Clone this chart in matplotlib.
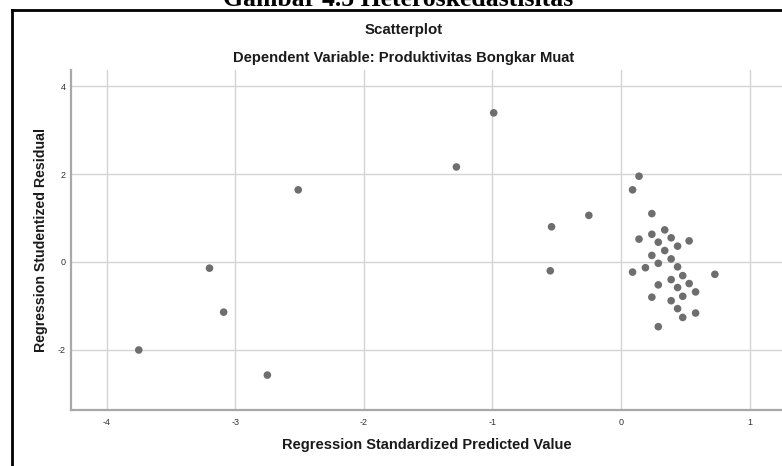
import numpy as np
import matplotlib.pyplot as plt
from matplotlib.lines import Line2D

""" SPSS-style residual scatterplot. """

# Regression Standardized Predicted Value
pred = [-3.75, -3.20, -3.09, -2.75, -2.51, -1.28, -0.99, -0.54, -0.55, -0.25,
        0.14, 0.09, 0.24, 0.34, 0.24, 0.39, 0.14, 0.53, 0.29, 0.44,
        0.34, 0.24, 0.39, 0.29, 0.44, 0.19, 0.09, 0.73, 0.48, 0.39,
        0.53, 0.29, 0.44, 0.58, 0.48, 0.24, 0.39, 0.44, 0.58, 0.48, 0.29]
# Regression Studentized Residual
resid = [-2.00, -0.14, -1.14, -2.57, 1.64, 2.16, 3.39, 0.80, -0.20, 1.06,
         1.95, 1.64, 1.10, 0.73, 0.63, 0.55, 0.52, 0.48, 0.45, 0.36,
         0.26, 0.15, 0.07, -0.03, -0.11, -0.13, -0.23, -0.28, -0.31, -0.40,
         -0.49, -0.52, -0.58, -0.68, -0.78, -0.80, -0.88, -1.06, -1.16, -1.26, -1.47]

xticks = [-4, -3, -2, -1, 0, 1]
yticks = [-2, 0, 2, 4]

plt.rcParams['font.family'] = ['Liberation Sans', 'DejaVu Sans']

fig = plt.figure(figsize=(7.82, 4.66), dpi=100)
W, H = 782, 466

# axes placed in pixel terms
left, right, top, bottom = 71, 782, 70, 410
ax = fig.add_axes([left / W, 1 - bottom / H, (right - left) / W, (bottom - top) / H])

ax.scatter(pred, resid, s=30, color='#6e6e6e', edgecolors='none', zorder=3)

ax.set_xlim(-4.277, 1.252)
ax.set_ylim(-3.364, 4.364)
ax.set_xticks(xticks)
ax.set_yticks(yticks)
ax.set_xticklabels([str(t) for t in xticks])
ax.set_yticklabels([str(t) for t in yticks])
ax.grid(True, color='#d4d4d4', linewidth=1.0, zorder=0)
ax.tick_params(length=0, labelsize=6.5, labelcolor='#333333')
ax.tick_params(axis='x', pad=6)
ax.tick_params(axis='y', pad=4)

for s in ['top', 'right']:
    ax.spines[s].set_visible(False)
for s in ['left', 'bottom']:
    ax.spines[s].set_color('#a8a8a8')
    ax.spines[s].set_linewidth(1.6)

ax.set_xlabel('Regression Standardized Predicted Value', fontsize=10.5,
              fontweight='bold', color='#1a1a1a', labelpad=7.5)
ax.set_ylabel('Regression Studentized Residual', fontsize=10.2,
              fontweight='bold', color='#1a1a1a', labelpad=7)

fig.text(404 / W, 1 - 30 / H, 'Scatterplot', ha='center', va='center',
         fontsize=10.8, fontweight='bold', color='#1a1a1a')
fig.text(404 / W, 1 - 58 / H, 'Dependent Variable: Produktivitas Bongkar Muat',
         ha='center', va='center', fontsize=10.6, fontweight='bold', color='#1a1a1a')

# cut-off caption above the frame
fig.text(398 / W, 1 - 5.5 / H, 'Gambar 4.5 Heteroskedastisitas', ha='center',
         va='baseline', fontsize=18.5, fontweight='bold', family='Liberation Serif')

# outer frame (left and top edges only visible)
fig.add_artist(Line2D([12 / W, 12 / W], [0, 1 - 10 / H], color='black',
                      linewidth=2, transform=fig.transFigure))
fig.add_artist(Line2D([12 / W, 1], [1 - 10 / H, 1 - 10 / H], color='black',
                      linewidth=2, transform=fig.transFigure))

fig.savefig('out.png', dpi=100)
